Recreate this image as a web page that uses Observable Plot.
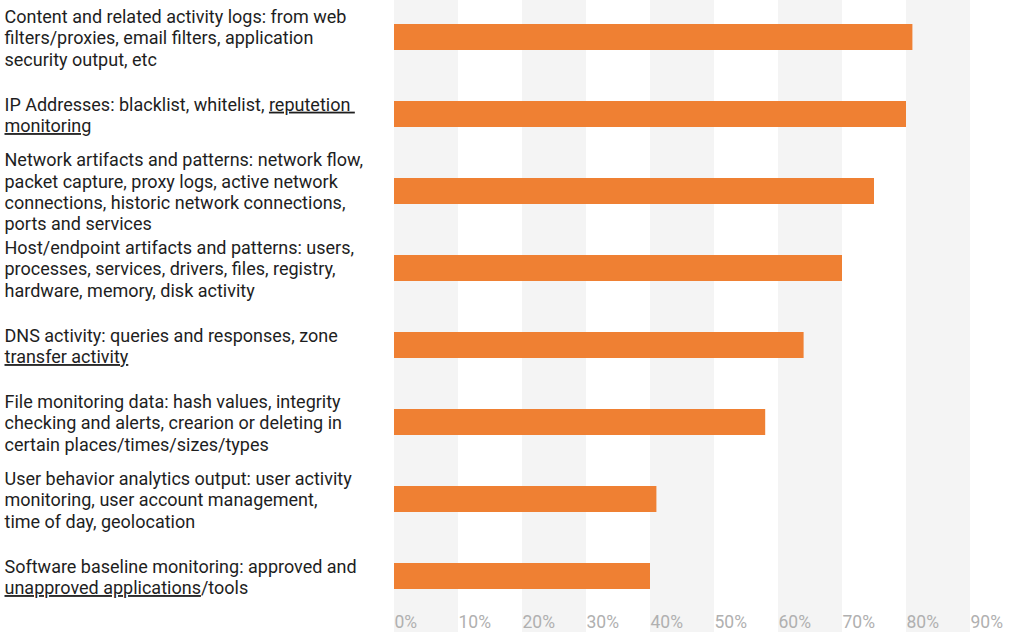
<!DOCTYPE html>
<html>
<head>
<meta charset="utf-8">
<script src="https://cdn.jsdelivr.net/npm/d3@7"></script>
<script src="https://cdn.jsdelivr.net/npm/@observablehq/plot@0.6"></script>
<style>
  html, body { margin: 0; padding: 0; background: #fff; }
  svg { display: block; }
</style>
</head>
<body>
<div id="chart"></div>
<script>
const categories = [
  "Content and related activity logs: from web\nfilters/proxies, email filters, application\nsecurity output, etc",
  "IP Addresses: blacklist, whitelist, reputetion \nmonitoring",
  "Network artifacts and patterns: network flow,\npacket capture, proxy logs, active network\nconnections, historic network connections,\nports and services",
  "Host/endpoint artifacts and patterns: users,\nprocesses, services, drivers, files, registry,\nhardware, memory, disk activity",
  "DNS activity: queries and responses, zone\ntransfer activity",
  "File monitoring data: hash values, integrity\nchecking and alerts, crearion or deleting in\ncertain places/times/sizes/types",
  "User behavior analytics output: user activity\nmonitoring, user account management,\ntime of day, geolocation",
  "Software baseline monitoring: approved and\nunapproved applications/tools"
];
const values = [81, 80, 75, 70, 64, 58, 41, 40];
const tickValues = [0, 10, 20, 30, 40, 50, 60, 70, 80, 90];
const shadedBands = [0, 20, 40, 60, 80];
const underlined = [
  {line: "IP Addresses: blacklist, whitelist, reputetion ", part: "reputetion "},
  {line: "monitoring", part: "monitoring"},
  {line: "transfer activity", part: "transfer activity"},
  {line: "unapproved applications/tools", part: "unapproved applications"}
];

const data = categories.map((c, i) => ({label: c, value: values[i]}));

const chart = Plot.plot({
  width: 1013,
  height: 632,
  marginLeft: 394,
  marginRight: 43,
  marginTop: 0,
  marginBottom: 0,
  style: {fontFamily: "Roboto, sans-serif", background: "#fff"},
  x: {domain: [0, 90], axis: null},
  y: {domain: categories, axis: null, paddingInner: 0.662, paddingOuter: 0.318, insetBottom: 18},
  marks: [
    Plot.rectX(shadedBands, {x1: d => d, x2: d => d + 10, fill: "#f4f4f4"}),
    Plot.barX(data, {y: "label", x: "value", fill: "#EF8033"}),
    Plot.text(data, {
      y: "label", text: "label", frameAnchor: "left", textAnchor: "start",
      dx: -390, fontSize: 18, lineHeight: 1.19, fill: "#1e1e1e"
    }),
    Plot.text(tickValues, {
      x: d => d, text: d => `${d}%`, frameAnchor: "bottom", textAnchor: "start",
      lineAnchor: "bottom", dy: -5, fontSize: 17.5, fill: "#b0b0b0"
    })
  ]
});

// underline specific parts of label lines
chart.querySelectorAll("tspan").forEach(ts => {
  const t = ts.textContent;
  const u = underlined.find(u => u.line === t);
  if (!u) return;
  const idx = t.indexOf(u.part);
  ts.textContent = "";
  const before = t.slice(0, idx), mid = u.part, after = t.slice(idx + u.part.length);
  const ns = "http://www.w3.org/2000/svg";
  if (before) ts.appendChild(document.createTextNode(before));
  const s = document.createElementNS(ns, "tspan");
  s.textContent = mid;
  s.setAttribute("style", "text-decoration: underline; text-decoration-color: #888; white-space: pre;");
  ts.appendChild(s);
  if (after) ts.appendChild(document.createTextNode(after));
  ts.setAttribute("style", "white-space: pre;");
});

document.getElementById("chart").appendChild(chart);
</script>
</body>
</html>
